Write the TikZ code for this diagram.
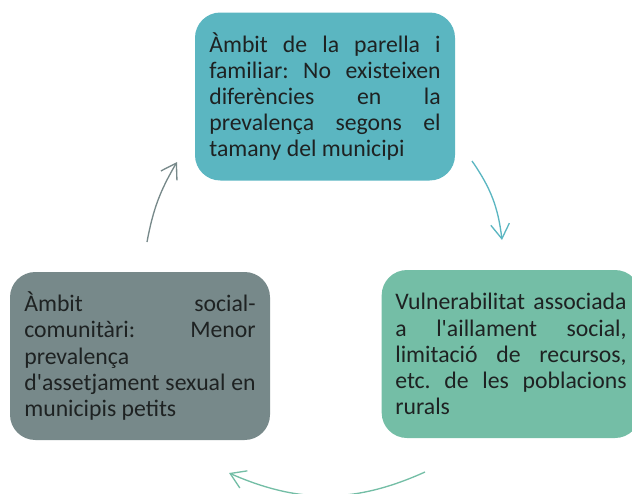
\documentclass[tikz,border=0pt]{standalone}
\usepackage{fontspec}
\setmainfont{Carlito}
\usetikzlibrary{arrows.meta}
\definecolor{cteal}{HTML}{5BB6C1}
\definecolor{cgreen}{HTML}{74BEA6}
\definecolor{cgray}{HTML}{77898A}
\definecolor{ctext}{HTML}{1E2222}
\newcommand{\apo}{\textquotesingle}
\tikzset{
  box/.style={rounded corners=19pt, inner sep=0pt, minimum height=126pt,
    text width=173.5pt, align=justify, text=ctext,
    font=\fontsize{17.8pt}{19.6pt}\selectfont\frenchspacing},
  cyc/.style={line width=1pt, -{Straight Barb[length=11pt,width=14pt,line width=1pt]}}
}
\begin{document}
\begin{tikzpicture}[x=0.75pt,y=-0.75pt]
\useasboundingbox (0,0) rectangle (632,493);
\node[box, fill=cteal, minimum width=195pt] (top) at (325,96.5)
  {Àmbit de la parella i\linebreak familiar: No existeixen\linebreak diferències en la\linebreak prevalença segons el\linebreak tamany del municipi};
\node[box, fill=cgreen, minimum width=194pt] (right) at (511,354)
  {Vulnerabilitat associada\linebreak a l\apo aillament social,\linebreak limitació de recursos,\linebreak etc. de les poblacions\linebreak rurals};
\node[box, fill=cgray, minimum width=195pt] (left) at (140,356)
  {Àmbit social-\linebreak comunitàri: Menor\linebreak prevalença\hfill\null\\ d\apo assetjament sexual en\linebreak municipis petits};
\coordinate (a1) at (472,161);
\coordinate (a2) at (502,240);
\coordinate (b1) at (425,472);
\coordinate (b2) at (229,473);
\coordinate (c1) at (147,242);
\coordinate (c2) at (177,162);
\draw[cyc, draw=cteal] (a1) to[bend left=14] (a2);
\draw[cyc, draw=cgreen] (b1) to[bend left=24] (b2);
\draw[cyc, draw=cgray] (c1) to[bend left=10] (c2);
\end{tikzpicture}
\end{document}
